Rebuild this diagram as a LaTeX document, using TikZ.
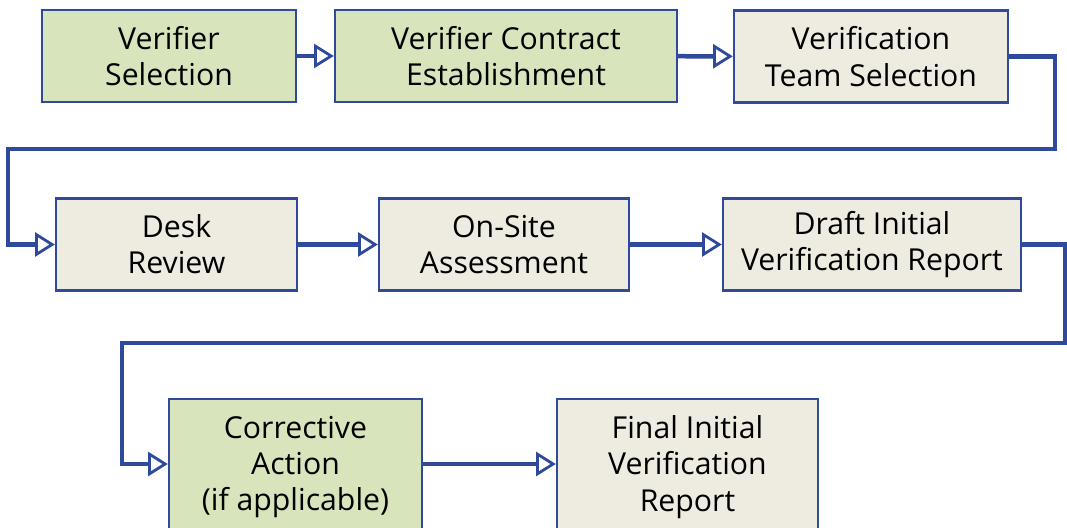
\documentclass[tikz,border=0pt]{standalone}
\usepackage{fontspec}
\setmainfont{Open Sans}
\usetikzlibrary{arrows.meta}

\definecolor{lineblue}{HTML}{2F4A9C}
\definecolor{stepgreen}{HTML}{D8E4BC}
\definecolor{stepbeige}{HTML}{EEECE1}

\tikzset{
  stepbox/.style={draw=lineblue, line width=1.6pt, rectangle, align=center,
    minimum height=2.3cm, inner sep=0pt,
    font=\fontsize{21.5}{25.8}\selectfont},
  flow/.style={draw=lineblue, line width=3.2pt,
    -{Triangle[open, length=14pt, width=17pt, line width=2pt]}},
}

\begin{document}
\begin{tikzpicture}[x=0.025cm, y=-0.025cm]
\useasboundingbox (0,0) rectangle (1067,527);

% First row
\node[stepbox, fill=stepgreen, minimum width=6.35cm] (vsel) at (169,56) {Verifier\\Selection};
\node[stepbox, fill=stepgreen, minimum width=8.55cm] (vcon) at (506,56) {Verifier Contract\\Establishment};
\node[stepbox, fill=stepbeige, minimum width=6.85cm] (vteam) at (871,56.5) {Verification\\Team Selection};

% Second row
\node[stepbox, fill=stepbeige, minimum width=6.025cm] (desk) at (176.5,244.5) {Desk\\Review};
\node[stepbox, fill=stepbeige, minimum width=6.25cm] (site) at (504,244.5) {On-Site\\Assessment};
\node[stepbox, fill=stepbeige, minimum width=7.45cm] (draft) at (872,244.5) {Draft Initial\\Verification Report};

% Third row
\node[stepbox, fill=stepgreen, minimum width=6.325cm, minimum height=3.4cm] (corr) at (295.5,467) {Corrective\\Action\\(if applicable)};
\node[stepbox, fill=stepbeige, minimum width=6.525cm, minimum height=3.4cm] (final) at (687.5,467) {Final Initial\\Verification\\Report};

% Arrows
\draw[flow] (vsel) -- (vcon);
\draw[flow] (vcon) -- (vteam);
\draw[flow] (desk) -- (site);
\draw[flow] (site) -- (draft);
\draw[flow] (corr.east |- 0,464) -- (final.west |- 0,464);

% Returns to the next row
\coordinate (turn1) at (1055,149);
\coordinate (back1) at (8,149);
\draw[flow] (vteam.east) -| (turn1) -- (back1) |- (desk.west);

\coordinate (turn2) at (1065,343);
\coordinate (back2) at (122,343);
\draw[flow] (draft.east) -| (turn2) -- (back2) |- (corr.west |- 0,464);

\end{tikzpicture}
\end{document}
